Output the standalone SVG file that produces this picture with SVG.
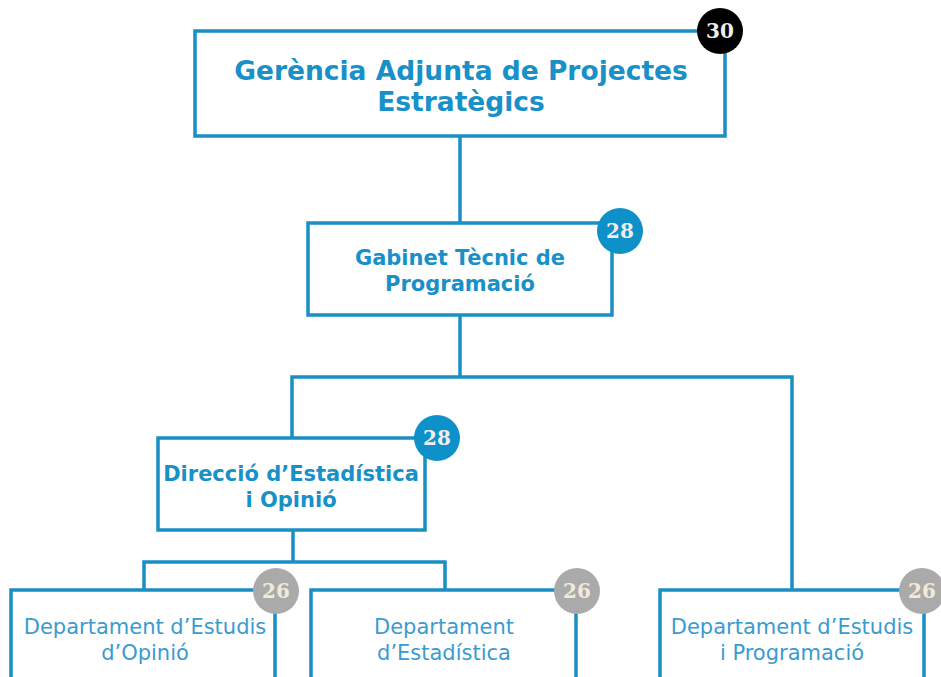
<svg xmlns="http://www.w3.org/2000/svg" width="941" height="677" viewBox="0 0 941 677">
<style>
.box{fill:#fff;stroke:#1a8fc4;stroke-width:3.5}
.conn{fill:none;stroke:#1a8fc4;stroke-width:3.5;stroke-linejoin:miter}
.tb{font-family:"DejaVu Sans","Verdana",sans-serif;font-weight:bold;fill:#1890c8;text-anchor:middle}
.tn{font-family:"DejaVu Sans","Verdana",sans-serif;fill:#3a9bd0;text-anchor:middle;font-size:21px}
.badge{font-family:"DejaVu Serif","Liberation Serif",serif;font-weight:bold;font-size:20px;text-anchor:middle}
</style>
<rect width="941" height="677" fill="#fff"/>
<g id="connectors">
<path class="conn" d="M460 136V222"/>
<path class="conn" d="M460 315V377"/>
<path class="conn" d="M292 438V377H792V590"/>
<path class="conn" d="M293 530V562"/>
<path class="conn" d="M144 590V562H445V590"/>
</g>
<g id="n1">
<rect class="box" x="195" y="31" width="530" height="105"/>
<text class="tb" x="461" y="80" font-size="26.5">Gerència Adjunta de Projectes</text>
<text class="tb" x="461" y="111" font-size="26.5">Estratègics</text>
<circle cx="720" cy="31" r="23" fill="#000"/>
<text class="badge" x="720" y="38" fill="#eee">30</text>
</g>
<g id="n2">
<rect class="box" x="308" y="223" width="304" height="92"/>
<text class="tb" x="460" y="265" font-size="21">Gabinet Tècnic de</text>
<text class="tb" x="460" y="291" font-size="21">Programació</text>
<circle cx="620" cy="231" r="23" fill="#0e90c8"/>
<text class="badge" x="620" y="238" fill="#eee">28</text>
</g>
<g id="n3">
<rect class="box" x="158" y="438" width="267" height="92"/>
<text class="tb" x="291" y="481" font-size="21">Direcció d’Estadística</text>
<text class="tb" x="291" y="507" font-size="21">i Opinió</text>
<circle cx="437" cy="438" r="23" fill="#0e90c8"/>
<text class="badge" x="437" y="445" fill="#eee">28</text>
</g>
<g id="n4">
<rect class="box" x="11" y="590" width="264" height="110"/>
<text class="tn" x="145" y="634">Departament d’Estudis</text>
<text class="tn" x="145" y="660">d’Opinió</text>
<circle cx="276" cy="591" r="23" fill="#aaa"/>
<text class="badge" x="276" y="598" fill="#f0ead8">26</text>
</g>
<g id="n5">
<rect class="box" x="311" y="590" width="265" height="110"/>
<text class="tn" x="444" y="634">Departament</text>
<text class="tn" x="444" y="660">d’Estadística</text>
<circle cx="577" cy="591" r="23" fill="#aaa"/>
<text class="badge" x="577" y="598" fill="#f0ead8">26</text>
</g>
<g id="n6">
<rect class="box" x="660" y="590" width="264" height="110"/>
<text class="tn" x="792" y="634">Departament d’Estudis</text>
<text class="tn" x="792" y="660">i Programació</text>
<circle cx="922" cy="591" r="23" fill="#aaa"/>
<text class="badge" x="922" y="598" fill="#f0ead8">26</text>
</g>
</svg>
